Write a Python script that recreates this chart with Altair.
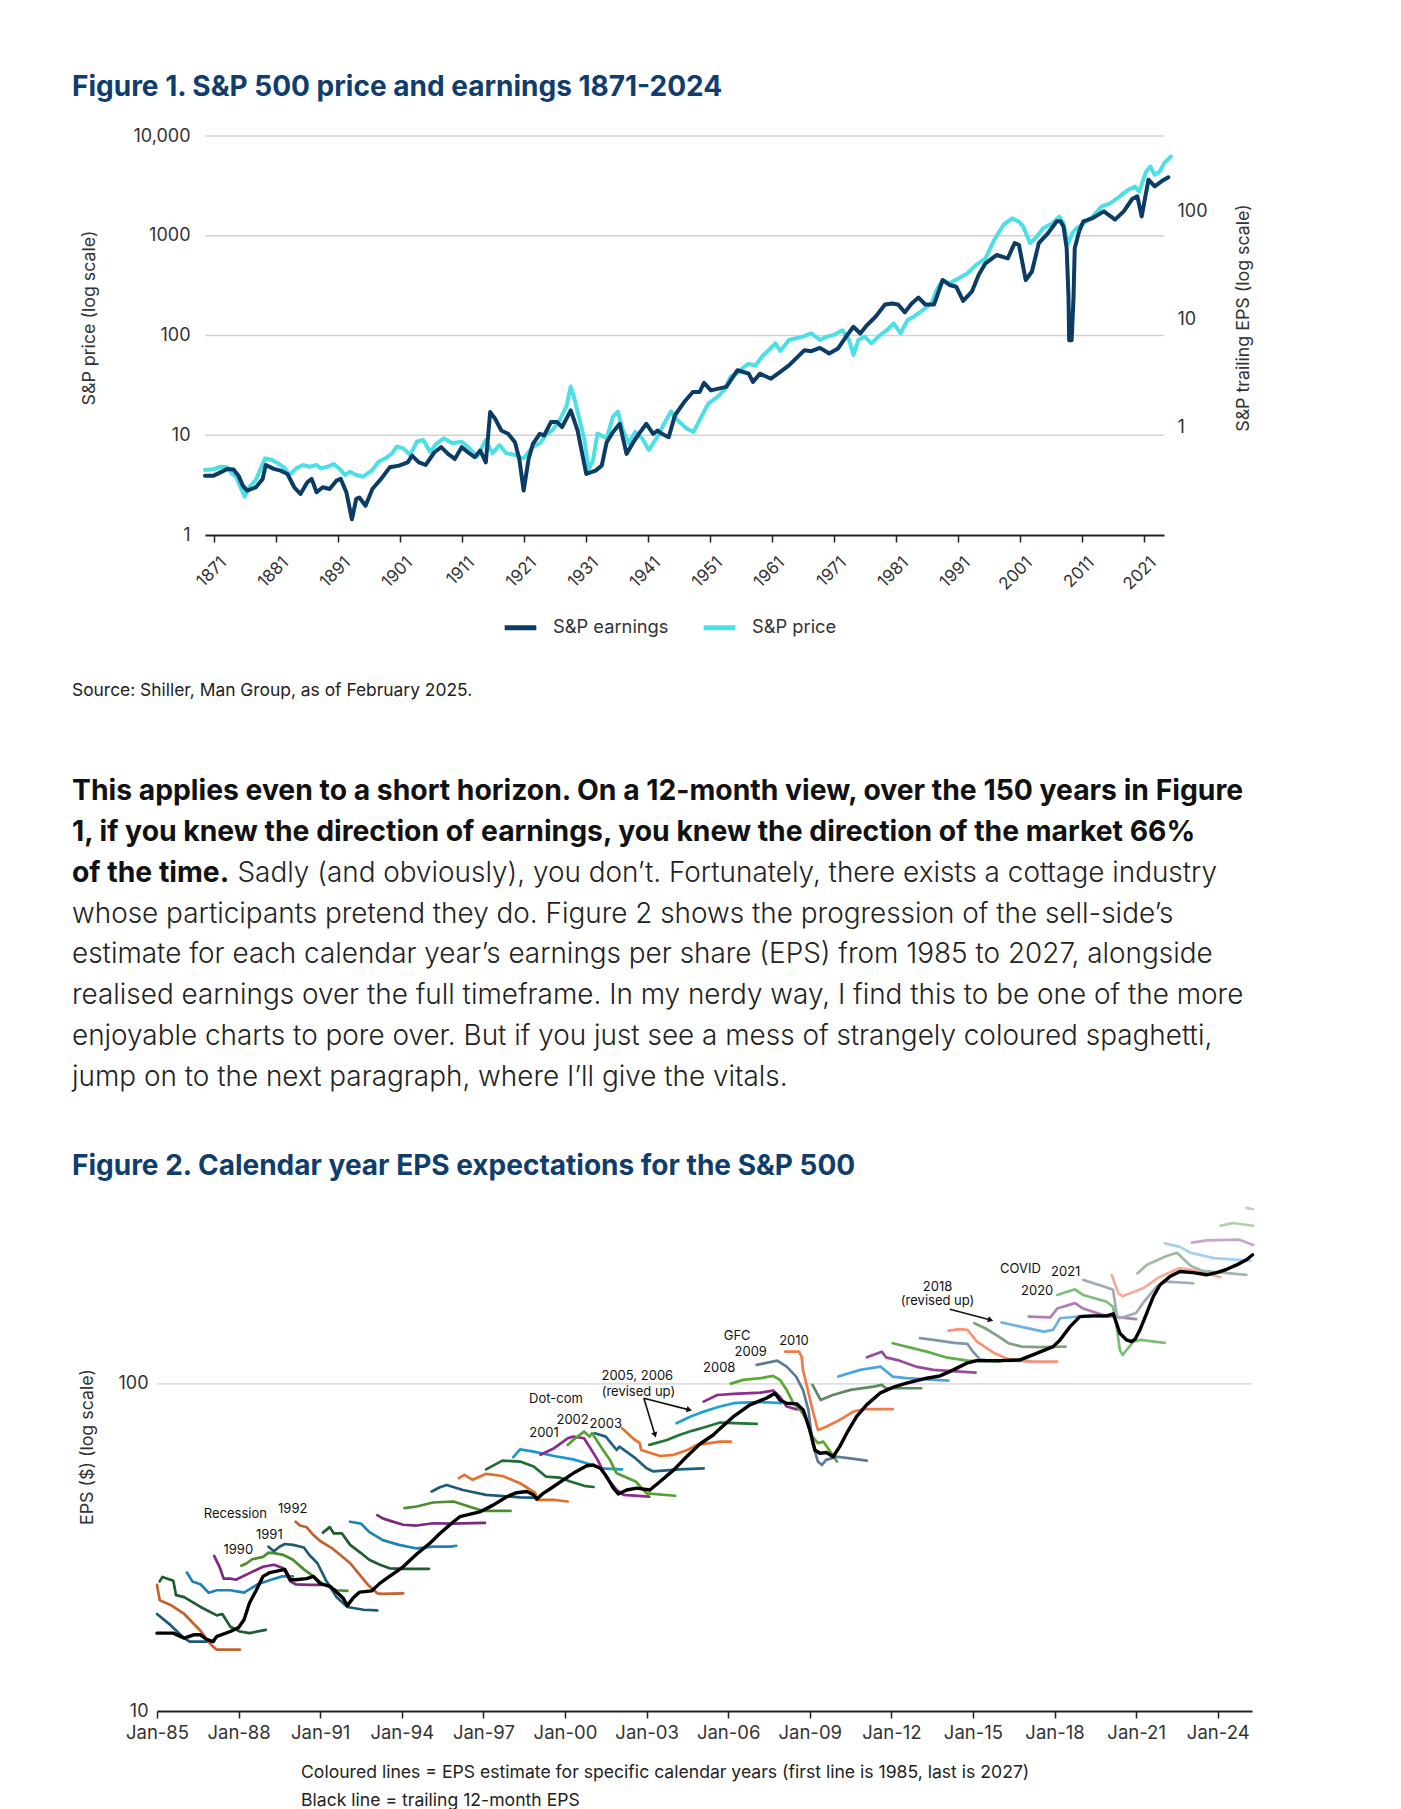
import altair as alt
import pandas as pd

W, H = 1385, 1801

# ---------------- Figure 1 data (position year, value) ----------------
PRICE_YEAR = [1869.6, 1871.0, 1872.1, 1873.2, 1873.9, 1874.6, 1875.3, 1876.0, 1876.8, 1877.8, 1878.6, 1879.3,
              1880.4, 1881.4, 1882.5, 1883.2, 1884.3, 1885.4, 1886.5, 1887.6, 1888.3, 1889.4, 1890.4, 1891.5,
              1892.2, 1893.0, 1894.0, 1895.1, 1896.6, 1897.6, 1898.7, 1899.8, 1900.5, 1901.6, 1902.7, 1903.8,
              1904.8, 1905.9, 1907.0, 1908.1, 1909.5, 1911.0, 1912.0, 1913.5, 1914.9, 1916.0, 1917.1, 1918.2,
              1919.6, 1921.0, 1922.5, 1923.6, 1924.6, 1925.7, 1926.8, 1927.9, 1928.6, 1929.1, 1929.7, 1930.8,
              1931.5, 1932.2, 1932.9, 1934.4, 1935.4, 1936.2, 1937.0, 1938.0, 1939.0, 1940.1, 1941.2, 1942.6,
              1943.7, 1944.8, 1945.8, 1947.3, 1948.4, 1949.6, 1950.8, 1952.3, 1953.4, 1954.4, 1955.5, 1956.6,
              1957.3, 1958.4, 1959.5, 1960.6, 1961.6, 1962.4, 1963.8, 1966.0, 1967.4, 1968.8, 1969.9, 1971.0,
              1972.4, 1973.5, 1974.2, 1975.0, 1976.0, 1977.1, 1978.2, 1979.6, 1980.7, 1981.8, 1982.9, 1983.9,
              1985.4, 1986.8, 1987.6, 1988.6, 1989.7, 1991.2, 1992.6, 1994.0, 1995.5, 1996.9, 1998.4, 1999.8,
              2000.9, 2001.6, 2002.7, 2003.8, 2004.8, 2006.3, 2007.4, 2008.1, 2008.8, 2009.5, 2010.2, 2011.3,
              2012.8, 2014.2, 2015.6, 2017.1, 2018.5, 2019.6, 2020.3, 2021.4, 2022.1, 2022.8, 2023.6, 2024.3,
              2025.4]
PRICE_VALUE = [4.48, 4.56, 4.84, 4.77, 4.15, 3.84, 3.05, 2.42, 3.05, 3.56, 4.66, 5.87,
               5.65, 5.23, 4.66, 3.99, 4.66, 5.03, 4.84, 5.03, 4.66, 4.84, 5.15, 4.48,
               3.99, 4.31, 3.99, 3.84, 4.48, 5.43, 5.87, 6.59, 7.68, 7.39, 6.34, 8.62,
               8.96, 6.84, 8.30, 9.31, 8.30, 8.62, 7.68, 6.10, 8.96, 6.59, 7.98, 6.59,
               6.34, 5.87, 7.68, 8.30, 10.06, 11.3, 14.2, 19.4, 30.8, 24.4, 17.3, 8.96,
               4.48, 5.65, 10.4, 9.31, 15.3, 17.3, 11.3, 8.30, 10.8, 9.31, 7.11, 9.68,
               13.2, 17.3, 14.2, 11.7, 10.8, 15.0, 20.8, 24.4, 28.5, 38.7, 41.8, 48.7,
               52.0, 50.0, 62.0, 72.0, 83.4, 70.0, 90.2, 97.4, 105, 90.2, 97.4, 101,
               113, 90.2, 63.8, 90.2, 97.4, 83.4, 97.4, 113, 132, 105, 142, 154,
               180, 210, 286, 360, 334, 375, 421, 510, 594, 906, 1283, 1495,
               1384, 1233, 840, 980, 1188, 1334, 1555, 1334, 820, 1058, 1188, 1334,
               1555, 1961, 2117, 2469, 2880, 3110, 2770, 4390, 4950, 4090, 4390, 5310,
               6200]

EARN_YEAR = [1869.6, 1871.0, 1872.1, 1873.2, 1874.2, 1875.0, 1875.7, 1876.4, 1877.8, 1878.9, 1879.4, 1880.7,
             1881.8, 1882.9, 1884.0, 1885.0, 1886.1, 1886.8, 1887.6, 1888.6, 1889.7, 1890.8, 1891.5, 1892.4,
             1893.3, 1894.0, 1894.5, 1895.5, 1896.6, 1898.0, 1899.4, 1900.9, 1902.3, 1903.0, 1904.1, 1905.2,
             1906.6, 1907.7, 1908.8, 1909.9, 1911.0, 1912.0, 1913.1, 1914.0, 1914.9, 1915.6, 1916.4, 1917.4,
             1918.5, 1919.6, 1920.3, 1921.0, 1921.8, 1922.5, 1923.6, 1924.3, 1925.4, 1926.4, 1927.2, 1928.6,
             1929.7, 1931.1, 1932.6, 1933.6, 1934.4, 1935.4, 1936.5, 1937.6, 1938.7, 1939.8, 1940.8, 1941.9,
             1942.6, 1943.3, 1944.4, 1945.4, 1946.9, 1948.3, 1949.4, 1950.1, 1951.2, 1953.7, 1955.5, 1957.3,
             1958.0, 1959.1, 1960.9, 1962.4, 1963.8, 1965.2, 1966.3, 1967.4, 1968.8, 1970.3, 1971.7, 1972.8,
             1974.2, 1975.3, 1976.4, 1977.8, 1979.3, 1980.4, 1981.4, 1982.5, 1983.6, 1984.7, 1985.8, 1987.2,
             1988.6, 1989.7, 1990.8, 1991.9, 1993.3, 1994.4, 1995.5, 1997.3, 1999.1, 2000.2, 2000.9, 2002.0,
             2003.0, 2004.1, 2005.6, 2007.0, 2007.6, 2008.1, 2008.6, 2008.9, 2009.0, 2009.4, 2009.7, 2009.9,
             2010.6, 2011.3, 2012.8, 2014.6, 2016.4, 2017.8, 2019.2, 2020.0, 2020.7, 2021.8, 2022.8, 2023.9,
             2025.0]
EARN_VALUE = [0.355, 0.355, 0.381, 0.410, 0.404, 0.355, 0.287, 0.258, 0.277, 0.331, 0.446, 0.410,
              0.395, 0.368, 0.277, 0.240, 0.308, 0.331, 0.249, 0.277, 0.267, 0.319, 0.331, 0.249,
              0.140, 0.216, 0.223, 0.187, 0.267, 0.331, 0.424, 0.440, 0.472, 0.545, 0.472, 0.446,
              0.585, 0.652, 0.565, 0.507, 0.652, 0.585, 0.526, 0.607, 0.472, 1.379, 1.195, 0.931,
              0.867, 0.725, 0.507, 0.258, 0.507, 0.70, 0.867, 0.837, 1.113, 1.113, 1.0, 1.429,
              0.931, 0.368, 0.395, 0.440, 0.725, 0.898, 1.074, 0.565, 0.725, 0.898, 1.074, 0.867,
              0.931, 0.867, 0.807, 1.284, 1.708, 2.117, 2.12, 2.58, 2.19, 2.36, 3.37, 3.13,
              2.62, 3.13, 2.81, 3.25, 3.74, 4.48, 5.17, 5.06, 5.43, 4.81, 5.35, 6.63,
              8.52, 7.38, 8.83, 10.6, 13.7, 14.0, 13.7, 11.6, 14.0, 15.9, 13.7, 13.7,
              23.1, 20.8, 20.0, 14.8, 18.0, 25.7, 33.0, 39.4, 36.7, 50.8, 49.0, 23.1,
              27.7, 50.8, 62.9, 81.0, 81.0, 72.0, 45.6, 15.6, 6.4, 6.4, 15.6, 45.6,
              65.0, 81.0, 86.7, 100.0, 83.8, 100.0, 131, 138, 89.9, 197, 171, 190,
              207]

FIG1_SERIES = ["S&P earnings", "S&P price"]
FIG1_XTICKS = [1871, 1881, 1891, 1901, 1911, 1921, 1931, 1941, 1951, 1961, 1971, 1981, 1991, 2001, 2011, 2021]
FIG1_YTICKS = [1, 10, 100, 1000, 10000]
FIG1_GRID = [10, 100, 1000, 10000]
FIG1_RTICKS = [1, 10, 100]
FIG1_XSPAN = [1869.6, 2024.3]

# ---------------- Figure 2 data: estimate paths per calendar year ----------------
EST_1985 = [(1985.0, 19.8), (1985.5, 18.3), (1986.0, 16.7), (1986.2, 16.3), (1987.1, 16.3)]
EST_1986 = [(1985.0, 24.3), (1985.1, 21.8), (1985.5, 21.1), (1986.0, 19.8), (1986.6, 17.6), (1987.0, 15.9), (1987.2, 15.4), (1988.05, 15.4)]
EST_1987 = [(1985.1, 24.9), (1985.2, 25.7), (1985.6, 25.0), (1985.7, 22.6), (1986.0, 22.3), (1986.2, 21.8), (1986.6, 20.8), (1987.2, 19.6), (1987.4, 19.8), (1987.7, 18.1), (1988.05, 17.5), (1988.4, 17.3), (1989.0, 17.7)]
EST_1988 = [(1986.1, 26.5), (1986.3, 24.9), (1986.6, 24.4), (1986.9, 23.0), (1987.2, 23.4), (1987.7, 23.4), (1988.2, 23.0), (1988.7, 24.4), (1989.2, 25.2), (1989.6, 25.8), (1990.0, 25.8)]
EST_1989 = [(1987.1, 29.8), (1987.3, 27.6), (1987.45, 25.4), (1987.7, 25.4), (1987.9, 25.2), (1988.4, 26.4), (1988.9, 27.6), (1989.3, 28.0), (1989.65, 27.3), (1989.9, 24.9), (1990.1, 24.4), (1990.6, 24.3), (1991.1, 24.3)]
EST_1990 = [(1988.1, 27.8), (1988.3, 28.3), (1988.5, 29.1), (1988.9, 29.6), (1989.1, 30.5), (1989.3, 30.4), (1989.65, 30.0), (1990.0, 29.0), (1990.4, 27.1), (1990.75, 25.8), (1991.1, 24.4), (1991.6, 23.4), (1992.0, 23.3)]
EST_1991 = [(1989.1, 31.8), (1989.3, 30.8), (1989.5, 31.8), (1989.7, 32.4), (1990.0, 32.2), (1990.4, 31.6), (1990.6, 30.0), (1990.9, 28.3), (1991.2, 25.2), (1991.6, 22.3), (1992.0, 20.8), (1992.6, 20.4), (1993.1, 20.3)]
EST_1992 = [(1990.1, 37.9), (1990.25, 36.9), (1990.5, 36.5), (1990.75, 34.5), (1991.0, 33.1), (1991.4, 31.6), (1991.7, 30.2), (1992.1, 28.3), (1992.5, 25.8), (1992.8, 24.1), (1993.1, 22.9), (1993.3, 22.8), (1994.05, 22.9)]
EST_1993 = [(1991.1, 35.1), (1991.35, 36.5), (1991.5, 34.9), (1991.8, 34.9), (1992.1, 32.2), (1992.5, 30.4), (1992.8, 29.0), (1993.2, 28.0), (1993.55, 27.3), (1994.05, 27.2), (1995.0, 27.2)]
EST_1994 = [(1992.1, 37.9), (1992.5, 37.4), (1992.8, 35.3), (1993.3, 33.3), (1993.9, 32.2), (1994.55, 31.4), (1995.15, 31.8), (1995.8, 31.8), (1996.0, 32.0)]
EST_1995 = [(1993.1, 39.7), (1993.3, 38.8), (1993.55, 38.2), (1994.05, 37.1), (1994.55, 36.9), (1995.15, 37.5), (1995.8, 37.4), (1997.06, 37.6)]
EST_1996 = [(1994.1, 41.7), (1994.55, 42.2), (1995.15, 43.4), (1995.9, 43.7), (1996.5, 42.1), (1997.0, 40.9), (1998.0, 40.9)]
EST_1997 = [(1995.1, 46.9), (1995.4, 48.3), (1995.65, 49.1), (1996.25, 47.4), (1997.1, 45.8), (1998.35, 45.0), (1998.85, 44.9)]
EST_1998 = [(1996.1, 51.5), (1996.3, 52.7), (1996.6, 50.9), (1997.1, 53.1), (1997.7, 52.3), (1998.35, 49.7), (1998.9, 46.5), (1999.0, 44.2), (1999.6, 44.2), (2000.1, 43.7)]
EST_1999 = [(1997.1, 54.8), (1997.7, 58.3), (1998.35, 57.9), (1998.85, 55.9), (1999.3, 52.1), (1999.8, 51.7), (2000.2, 50.3), (2000.7, 48.8), (2001.05, 48.4)]
EST_2000 = [(1998.1, 59.7), (1998.35, 63.1), (1998.85, 62.1), (1999.6, 60.2), (2000.3, 58.8), (2000.8, 57.2), (2001.3, 55.2), (2002.1, 54.8)]
EST_2001 = [(1999.1, 60.7), (1999.6, 63.6), (2000.1, 68.2), (2000.3, 69.0), (2000.7, 68.2), (2000.9, 64.3), (2001.2, 58.6), (2001.5, 52.1), (2001.9, 47.4), (2002.15, 45.8), (2003.1, 45.2)]
EST_2002 = [(2000.1, 65.1), (2000.3, 67.4), (2000.7, 71.5), (2000.9, 69.0), (2001.0, 70.7), (2001.4, 62.8), (2001.65, 58.6), (2001.9, 53.3), (2002.6, 50.3), (2003.0, 46.3), (2004.05, 45.5)]
EST_2003 = [(2001.1, 70.7), (2001.5, 69.0), (2001.9, 62.8), (2002.0, 64.3), (2002.6, 59.2), (2003.0, 55.2), (2003.25, 54.0), (2004.2, 54.8), (2005.1, 55.2)]
EST_2004 = [(2002.1, 73.2), (2002.5, 68.2), (2002.75, 65.9), (2002.8, 62.8), (2003.5, 60.2), (2004.0, 60.7), (2004.5, 62.8), (2004.85, 65.1), (2005.7, 66.6), (2006.1, 66.6)]
EST_2005 = [(2003.1, 65.1), (2003.75, 67.4), (2004.2, 69.8), (2004.7, 72.0), (2005.2, 74.0), (2005.7, 76.2), (2007.05, 75.5)]
EST_2006 = [(2004.1, 75.8), (2004.6, 79.4), (2005.1, 82.3), (2005.7, 85.3), (2006.2, 87.3), (2006.8, 87.8), (2007.4, 87.9), (2007.95, 87.3)]
EST_2007 = [(2005.1, 88.3), (2005.6, 92.5), (2006.2, 93.2), (2007.2, 94.1), (2007.65, 95.4), (2007.9, 91.4), (2008.15, 85.3), (2008.5, 83.7), (2008.6, 83.7)]
EST_2008 = [(2006.1, 100.2), (2006.55, 102.9), (2007.2, 104.1), (2007.65, 105.8), (2007.9, 102.9), (2008.15, 95.9), (2008.4, 87.3), (2008.65, 83.3), (2008.9, 77.6), (2009.1, 69.0), (2009.3, 65.9), (2009.5, 66.6), (2009.8, 61.4), (2010.0, 57.9)]
EST_2009 = [(2007.05, 114.3), (2007.8, 117.8), (2008.15, 113.0), (2008.5, 105.3), (2008.75, 95.9), (2008.95, 83.3), (2009.1, 65.9), (2009.3, 57.9), (2009.45, 56.5), (2009.6, 58.6), (2010.0, 59.9), (2010.5, 59.2), (2011.1, 58.3)]
EST_2010 = [(2008.1, 125.5), (2008.6, 125.5), (2008.7, 121.2), (2008.75, 110.4), (2008.9, 98.1), (2009.1, 83.3), (2009.3, 72.3), (2009.6, 74.0), (2010.1, 77.6), (2010.6, 82.3), (2010.95, 83.7), (2012.05, 83.7)]
EST_2011 = [(2009.1, 99.3), (2009.4, 89.3), (2009.85, 92.5), (2010.5, 95.9), (2011.35, 98.1), (2011.65, 99.3), (2011.8, 97.0), (2013.1, 97.0)]
EST_2012 = [(2010.05, 105.3), (2010.85, 110.4), (2011.6, 113.0), (2012.05, 105.3), (2012.55, 104.1), (2014.1, 102.3)]
EST_2013 = [(2011.1, 120.6), (2011.65, 125.5), (2011.8, 120.6), (2012.3, 117.8), (2012.9, 113.0), (2013.55, 110.4), (2015.1, 108.3)]
EST_2014 = [(2012.05, 133.2), (2012.55, 130.0), (2013.3, 125.5), (2014.0, 120.6), (2014.8, 117.8), (2016.0, 117.0)]
EST_2015 = [(2013.05, 138.0), (2013.55, 136.3), (2014.3, 133.5), (2014.8, 132.5), (2015.0, 125.5), (2015.25, 119.0), (2015.6, 117.8), (2017.1, 117.5)]
EST_2016 = [(2014.1, 145.5), (2014.5, 147.0), (2014.8, 146.3), (2015.15, 134.7), (2015.8, 124.0), (2016.3, 119.0), (2017.1, 117.0), (2018.1, 117.0)]
EST_2017 = [(2015.05, 153.3), (2015.45, 148.0), (2015.95, 139.5), (2016.3, 133.2), (2016.8, 130.0), (2017.45, 129.5), (2018.4, 130.0)]
EST_2018 = [(2016.05, 154.1), (2016.7, 149.9), (2017.6, 144.5), (2017.95, 146.3), (2018.2, 158.8), (2019.15, 161.4), (2020.05, 160.6)]
EST_2019 = [(2017.05, 160.6), (2017.85, 159.8), (2018.1, 170.0), (2018.75, 176.6), (2019.05, 170.0), (2019.9, 161.4), (2021.0, 157.9)]
EST_2020 = [(2018.1, 187.1), (2018.75, 194.7), (2019.05, 187.1), (2019.9, 178.6), (2020.15, 172.2), (2020.3, 146.3), (2020.4, 127.0), (2020.5, 122.6), (2020.9, 134.7), (2021.15, 136.3), (2022.05, 133.5)]
EST_2021 = [(2019.05, 208.0), (2019.9, 197.5), (2020.15, 193.9), (2020.3, 160.6), (2020.4, 158.8), (2021.0, 164.8), (2021.25, 176.6), (2021.75, 198.5), (2022.1, 205.6), (2023.1, 203.1)]
EST_2022 = [(2020.1, 215.6), (2020.35, 189.2), (2020.5, 185.5), (2021.25, 196.1), (2021.85, 212.0), (2022.6, 226.0), (2023.1, 223.0), (2024.1, 212.0)]
EST_2023 = [(2021.05, 217.9), (2021.4, 231.5), (2022.1, 245.6), (2022.5, 251.7), (2023.0, 229.8), (2023.45, 221.6), (2025.05, 215.6)]
EST_2024 = [(2022.05, 269.1), (2022.6, 262.5), (2023.0, 251.7), (2023.85, 242.4), (2025.2, 238.2)]
EST_2025 = [(2023.05, 270.3), (2023.6, 274.6), (2024.8, 276.0), (2025.3, 265.8)]
EST_2026 = [(2024.1, 304.5), (2024.55, 310.5), (2025.3, 304.5)]
EST_2027 = [(2025.05, 345.3), (2025.3, 342.0)]

EST_YEARS = list(range(1985, 2028))
EST_PATHS = [EST_1985, EST_1986, EST_1987, EST_1988, EST_1989, EST_1990, EST_1991, EST_1992, EST_1993,
             EST_1994, EST_1995, EST_1996, EST_1997, EST_1998, EST_1999, EST_2000, EST_2001, EST_2002,
             EST_2003, EST_2004, EST_2005, EST_2006, EST_2007, EST_2008, EST_2009, EST_2010, EST_2011,
             EST_2012, EST_2013, EST_2014, EST_2015, EST_2016, EST_2017, EST_2018, EST_2019, EST_2020,
             EST_2021, EST_2022, EST_2023, EST_2024, EST_2025, EST_2026, EST_2027]

FIG2_COLORS = ["#1d5a78", "#c4622d", "#1f5c2e", "#1b84b5", "#7b2a80", "#4b8f2b",
               "#1d5a78", "#c4622d", "#1f5c2e", "#1b84b5", "#7b2a80", "#4b8f2b",
               "#1d5a78", "#e0702e", "#1f6b30", "#1d95cf", "#8c2a8e", "#55a030",
               "#1f5f80", "#e8732d", "#237535", "#1f9fd8", "#8e2a90", "#58aa2e",
               "#5a7a95", "#f07a48", "#5d8a62", "#4aa6dc", "#9a4a9e", "#62ae4c",
               "#8093aa", "#f49478", "#7da27e", "#70b0e2", "#b07cb4", "#7cbf78",
               "#a0aabb", "#f4ab98", "#a2b8a2", "#a6cfee", "#c9a3cd", "#a9d3a2", "#c5ccd6"]

TRAILING_EPS = [(1985.0, 17.3), (1985.6, 17.3), (1986.0, 16.7), (1986.35, 17.1), (1986.6, 17.1), (1986.8, 16.6),
                (1987.05, 16.3), (1987.2, 16.9), (1987.7, 17.5), (1988.0, 18.0), (1988.2, 19.0), (1988.4, 21.4),
                (1988.65, 23.4), (1988.9, 25.8), (1989.15, 26.5), (1989.7, 27.1), (1989.9, 25.2), (1990.1, 25.2),
                (1990.5, 25.4), (1990.75, 25.8), (1991.0, 24.5), (1991.35, 24.1), (1991.6, 23.1), (1991.85, 22.1),
                (1992.0, 21.0), (1992.2, 22.1), (1992.45, 23.1), (1992.9, 23.3), (1993.2, 24.6), (1993.55, 25.8),
                (1994.05, 27.6), (1994.55, 30.2), (1995.04, 32.6), (1995.4, 34.9), (1995.9, 37.9), (1996.14, 39.3),
                (1996.9, 40.7), (1997.36, 42.6), (1997.86, 45.2), (1998.22, 46.5), (1998.6, 46.9), (1998.84, 45.8),
                (1998.96, 44.4), (1999.2, 46.3), (1999.57, 48.5), (1999.94, 50.9), (2000.3, 53.3), (2000.8, 56.2),
                (2001.04, 56.5), (2001.3, 55.2), (2001.53, 52.1), (2001.78, 48.0), (2001.96, 46.1), (2002.27, 47.4),
                (2002.64, 48.0), (2003.12, 47.4), (2003.5, 50.3), (2004.0, 54.6), (2004.47, 59.9), (2004.96, 65.5),
                (2005.45, 69.8), (2005.7, 73.0), (2006.19, 79.4), (2006.8, 86.3), (2007.4, 90.4), (2007.72, 93.7),
                (2007.9, 89.3), (2008.15, 87.3), (2008.52, 86.9), (2008.76, 83.3), (2009.0, 72.3), (2009.19, 62.8),
                (2009.37, 61.4), (2009.62, 61.7), (2009.86, 59.9), (2010.1, 64.3), (2010.36, 70.7), (2010.72, 79.4),
                (2011.09, 86.3), (2011.58, 93.7), (2012.07, 97.7), (2012.56, 100.5), (2013.3, 104.1), (2013.79, 105.8),
                (2014.28, 110.4), (2014.77, 115.7), (2015.14, 117.8), (2016.0, 117.8), (2016.73, 118.4), (2017.34, 124.0),
                (2017.95, 130.0), (2018.2, 136.3), (2018.57, 149.7), (2018.93, 160.6), (2019.42, 161.4), (2019.92, 161.4),
                (2020.16, 163.8), (2020.28, 153.3), (2020.4, 142.9), (2020.65, 136.3), (2020.83, 134.7), (2020.96, 137.0),
                (2021.14, 146.3), (2021.39, 164.6), (2021.63, 185.0), (2021.88, 201.0), (2022.24, 212.9), (2022.61, 220.7),
                (2023.1, 218.9), (2023.59, 215.6), (2023.96, 218.9), (2024.33, 224.1), (2024.7, 231.2), (2025.06, 239.6),
                (2025.28, 248.2)]

FIG2_XTICKS = [1985, 1988, 1991, 1994, 1997, 2000, 2003, 2006, 2009, 2012, 2015, 2018, 2021, 2024]
FIG2_YTICKS = [10, 100]
FIG2_GRID = [100]
FIG2_XSPAN = [1985.0, 2025.26]

ANNOT_TEXT = ["Recession", "1992", "1991", "1990", "Dot-com", "2001", "2002", "2003", "2005, 2006",
              "(revised up)", "2008", "GFC", "2009", "2010", "2018", "(revised up)", "COVID", "2021", "2020"]
ANNOT_YEAR = [1987.88, 1989.99, 1989.13, 1987.99, 1999.67, 1999.23, 2000.28, 2001.5, 2002.66,
              2002.7, 2005.67, 2006.33, 2006.83, 2008.42, 2013.7, 2013.7, 2016.75, 2018.41, 2017.36]
ANNOT_VALUE = [40.0, 41.4, 34.5, 31.1, 90.0, 70.7, 77.6, 75.3, 105.8,
               94.7, 111.7, 140.6, 125.0, 135.4, 198.3, 179.3, 225.0, 219.3, 192.7]

ARROW_X0 = [2002.90, 2002.90, 2014.15]
ARROW_V0 = [90.4, 90.4, 169.1]
ARROW_X1 = [2003.31, 2004.57, 2015.65]
ARROW_V1 = [69.8, 83.3, 156.9]
ARROW_HEAD_ANGLE = [163, 105, 105]

PARA_BOLD = ["This applies even to a short horizon. On a 12-month view, over the 150 years in Figure",
             "1, if you knew the direction of earnings, you knew the direction of the market 66%",
             "of the time."]
PARA_TAIL = "Sadly (and obviously), you don\u2019t. Fortunately, there exists a cottage industry"
PARA_REST = ["whose participants pretend they do. Figure 2 shows the progression of the sell-side\u2019s",
             "estimate for each calendar year\u2019s earnings per share (EPS) from 1985 to 2027, alongside",
             "realised earnings over the full timeframe. In my nerdy way, I find this to be one of the more",
             "enjoyable charts to pore over. But if you just see a mess of strangely coloured spaghetti,",
             "jump on to the next paragraph, where I\u2019ll give the vitals."]

# ---------------- styling ----------------
FONT = "Inter"
NAVY = "#0b3c66"
CYAN = "#4ddfe6"
TITLE_COLOR = "#0f3d6d"
TXT = "#2b2b2b"

f1x = alt.Scale(type="linear", domain=FIG1_XSPAN, range=[197, 1156], nice=False, zero=False)
f1p = alt.Scale(type="log", domain=[1, 10000], range=[527, 128], nice=False)
f1e = alt.Scale(type="log", domain=[0.1, 500], range=[527, 128], nice=False)
f2x = alt.Scale(type="linear", domain=FIG2_XSPAN, range=[149, 1244], nice=False, zero=False)
f2y = alt.Scale(type="log", domain=[10, 400], range=[1703, 1179], nice=False)

lab = dict(labelFont=FONT, labelColor="#333333", labelFlush=False, labelOverlap=False, grid=False, title=None)

ax1x = alt.Axis(orient="bottom", offset=-(H - 527), values=FIG1_XTICKS, format="d", labelAngle=-45,
                labelFontSize=17, labelPadding=12, labelOffset=4, domainColor="#222222", domainWidth=2,
                tickColor="#222222", tickWidth=1.5, tickSize=7, **lab)
ax1p = alt.Axis(orient="left", offset=-197, values=FIG1_YTICKS,
                labelExpr="datum.value >= 10000 ? '10,000' : format(datum.value, 'd')",
                labelFontSize=18, labelPadding=15, domain=False, ticks=False, **lab)
ax1e = alt.Axis(orient="right", offset=-(W - 1156), values=FIG1_RTICKS, format="d",
                labelFontSize=18, labelPadding=13, domain=False, ticks=False, **lab)
ax2x = alt.Axis(orient="bottom", offset=-(H - 1703), values=FIG2_XTICKS,
                labelExpr="'Jan-' + substring(format(datum.value, 'd'), 2)",
                labelAngle=0, labelFontSize=18.5, labelPadding=5, domainColor="#222222", domainWidth=2,
                tickColor="#222222", tickWidth=1.5, tickSize=7, **lab)
ax2y = alt.Axis(orient="left", offset=-149, values=FIG2_YTICKS, format="d",
                labelFontSize=18, labelPadding=9, domain=False, ticks=False, **lab)

color1 = alt.Scale(domain=FIG1_SERIES, range=[NAVY, CYAN])
leg1 = alt.Legend(orient="none", legendX=494, legendY=601, direction="horizontal", title=None,
                  symbolType="stroke", symbolStrokeWidth=5, symbolSize=1000, labelFont=FONT,
                  labelFontSize=18.3, labelColor="#333333", labelOffset=14, columnPadding=24, padding=0)

# ---------------- data frames ----------------
price_df = pd.DataFrame({"year": PRICE_YEAR, "value": PRICE_VALUE, "series": "S&P price"})
earn_df = pd.DataFrame({"year": EARN_YEAR, "value": EARN_VALUE, "series": "S&P earnings"})
grid1_df = pd.DataFrame({"v": FIG1_GRID, "x0": FIG1_XSPAN[0], "x1": FIG1_XSPAN[1]})
grid2_df = pd.DataFrame({"v": FIG2_GRID, "x0": FIG2_XSPAN[0], "x1": FIG2_XSPAN[1]})

rows = []
for i, (yr, path) in enumerate(zip(EST_YEARS, EST_PATHS)):
    for j, (x, v) in enumerate(path):
        rows.append({"line": yr, "idx": j, "year": x, "eps": v, "col": FIG2_COLORS[i]})
est_df = pd.DataFrame(rows)
black_df = pd.DataFrame({"year": [p[0] for p in TRAILING_EPS], "eps": [p[1] for p in TRAILING_EPS]})
annot_df = pd.DataFrame({"t": ANNOT_TEXT, "year": ANNOT_YEAR, "eps": ANNOT_VALUE})
arrow_df = pd.DataFrame({"x0": ARROW_X0, "v0": ARROW_V0, "x1": ARROW_X1, "v1": ARROW_V1})

# ---------------- figure 1 layers ----------------
grid1 = alt.Chart(grid1_df).mark_rule(color="#d2d2d2", strokeWidth=1.3).encode(
    x=alt.X("x0:Q", scale=f1x, axis=None), x2="x1:Q",
    y=alt.Y("v:Q", scale=f1p, axis=None))

price_line = alt.Chart(price_df).mark_line(strokeWidth=4, strokeJoin="round", strokeCap="round").encode(
    x=alt.X("year:Q", scale=f1x, axis=ax1x),
    y=alt.Y("value:Q", scale=f1p, axis=ax1p),
    color=alt.Color("series:N", scale=color1, legend=leg1))

earn_line = alt.Chart(earn_df).mark_line(strokeWidth=4, strokeJoin="round", strokeCap="round").encode(
    x=alt.X("year:Q", scale=f1x, axis=None),
    y=alt.Y("value:Q", scale=f1e, axis=ax1e),
    color=alt.Color("series:N", scale=color1, legend=leg1))

# ---------------- figure 2 layers ----------------
grid2 = alt.Chart(grid2_df).mark_rule(color="#d2d2d2", strokeWidth=1.3).encode(
    x=alt.X("x0:Q", scale=f2x, axis=None), x2="x1:Q",
    y=alt.Y("v:Q", scale=f2y, axis=None))

est_lines = alt.Chart(est_df).mark_line(strokeWidth=2.7, strokeJoin="round", strokeCap="round").encode(
    x=alt.X("year:Q", scale=f2x, axis=ax2x),
    y=alt.Y("eps:Q", scale=f2y, axis=ax2y),
    detail="line:N", order="idx:Q",
    color=alt.Color("col:N", scale=None))

black_line = alt.Chart(black_df).mark_line(strokeWidth=3.4, color="#000000", strokeJoin="round", strokeCap="round").encode(
    x=alt.X("year:Q", scale=f2x, axis=None),
    y=alt.Y("eps:Q", scale=f2y, axis=None))

annots = alt.Chart(annot_df).mark_text(font=FONT, fontSize=13, color="#111111", align="center", baseline="middle").encode(
    x=alt.X("year:Q", scale=f2x, axis=None),
    y=alt.Y("eps:Q", scale=f2y, axis=None),
    text="t:N")

arrows = alt.Chart(arrow_df).mark_rule(color="#111111", strokeWidth=1.6).encode(
    x=alt.X("x0:Q", scale=f2x, axis=None), x2="x1:Q",
    y=alt.Y("v0:Q", scale=f2y, axis=None), y2="v1:Q")

heads = []
for k in range(len(ARROW_X1)):
    hd = pd.DataFrame({"x": [ARROW_X1[k]], "v": [ARROW_V1[k]]})
    heads.append(alt.Chart(hd).mark_point(shape="triangle-up", filled=True, size=40, color="#111111",
                                          opacity=1, angle=ARROW_HEAD_ANGLE[k]).encode(
        x=alt.X("x:Q", scale=f2x, axis=None), y=alt.Y("v:Q", scale=f2y, axis=None)))

# ---------------- static text ----------------
ONE = alt.Data(values=[{}])


def txt(s, x, y, size, weight="normal", color=TXT, angle=0, align="left"):
    return alt.Chart(ONE).mark_text(font=FONT, fontSize=size, fontWeight=weight, color=color,
                                    align=align, baseline="middle", angle=angle).encode(
        x=alt.value(x), y=alt.value(y), text=alt.value(s))


texts = [
    txt("Figure 1. S&P 500 price and earnings 1871-2024", 64, 80, 28, "bold", TITLE_COLOR),
    txt("S&P price (log scale)", 82, 310, 17.8, color="#333333", angle=270, align="center"),
    txt("S&P trailing EPS (log scale)", 1236, 310, 17.8, color="#333333", angle=270, align="center"),
    txt("Source: Shiller, Man Group, as of February 2025.", 64, 683, 17.4, color="#222222"),
    txt("Figure 2. Calendar year EPS expectations for the S&P 500", 64, 1159, 28, "bold", TITLE_COLOR),
    txt("EPS ($) (log scale)", 80, 1439, 17.8, color="#333333", angle=270, align="center"),
    txt("Coloured lines = EPS estimate for specific calendar years (first line is 1985, last is 2027)",
        293, 1765, 17.6, color="#222222"),
    txt("Black line = trailing 12-month EPS", 293, 1793, 17.6, color="#222222"),
]
LINE_Y0, LINE_STEP = 784, 40.85
for i, s in enumerate(PARA_BOLD):
    texts.append(txt(s, 64, LINE_Y0 + i * LINE_STEP, 28.3, "bold", "#111111"))
texts.append(txt(PARA_TAIL, 229.5, LINE_Y0 + 2 * LINE_STEP, 27.9, 300, "#222222"))
for i, s in enumerate(PARA_REST):
    texts.append(txt(s, 64, LINE_Y0 + (3 + i) * LINE_STEP, 27.9, 300, "#222222"))

chart = alt.layer(
    grid1, price_line, earn_line,
    grid2, est_lines, black_line, arrows, *heads, annots,
    *texts
).resolve_scale(
    x="independent", y="independent"
).properties(
    width=W, height=H, autosize=alt.AutoSizeParams(type="none"), padding=0
).configure(
    background="white", view=alt.ViewConfig(stroke=None)
)

chart.save("out.html", embed_options={"renderer": "svg", "actions": False})
